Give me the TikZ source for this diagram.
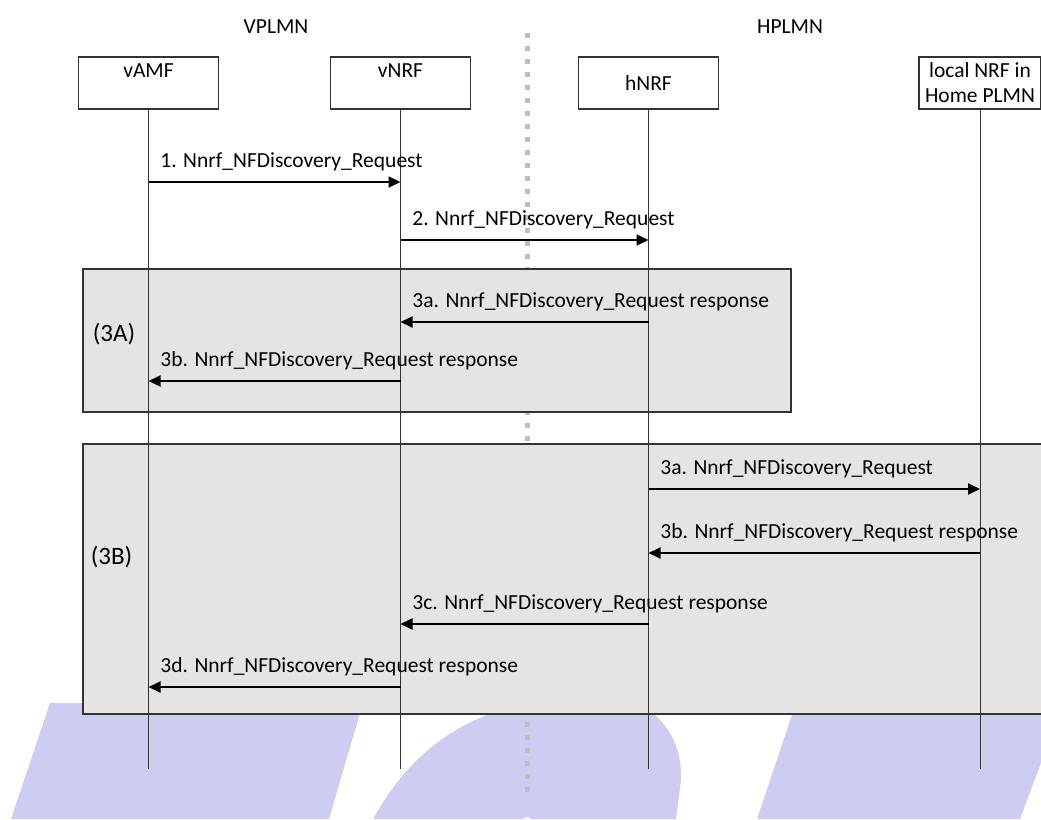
\documentclass[tikz,border=0pt]{standalone}
\usepackage{fontspec}
\setmainfont{Carlito}
\usetikzlibrary{arrows.meta}
\definecolor{wmblue}{RGB}{205,205,241}
\definecolor{boxgray}{RGB}{228,228,228}
\definecolor{dotgray}{RGB}{190,190,190}
\begin{document}
\begin{tikzpicture}[x=1pt,y=-1pt,font=\fontsize{21.5}{25}\selectfont,
    ent/.style={draw=black!80,line width=1.2pt,minimum width=140pt,minimum height=52pt,inner sep=0pt,align=center},
    life/.style={black!80,line width=1pt},
    msg/.style={line width=1.9pt,-{Triangle[length=12pt,width=11pt]}},
    lbl/.style={anchor=base west,inner sep=0pt,xshift=11pt,yshift=15pt},
    grp/.style={draw=black!80,fill=boxgray,line width=1.3pt},
    grplbl/.style={font=\fontsize{25}{30}\selectfont}]
  \useasboundingbox (0,0) rectangle (1041,819);
  \fill[wmblue] (50,703) -- (363,703) -- (329,819) -- (11,819) -- cycle;
  \fill[wmblue] (373,819) .. controls (400,770) and (450,712) .. (540,703) -- (640,703)
    .. controls (668,722) and (682,745) .. (681,780) -- (676,819) -- cycle;
  \fill[white] (527,832) ellipse [x radius=8pt,y radius=15pt];
  \fill[wmblue] (796,703) -- (1041,703) -- (1041,763) -- (1020,819) -- (757,819) -- cycle;
  \draw[dotgray,line width=5pt,dash pattern=on 5pt off 8pt] (527,33) -- (527,800);
  \draw[grp] (83,269) rectangle (791,412);
  \draw[grp] (83,444) rectangle (1046,714);
  \node (vplmn) at (276,27) {VPLMN};
  \node (hplmn) at (790,27) {HPLMN};
  \node[ent] (vamf) at (148.5,83) {vAMF\\\mbox{}};
  \node[ent] (vnrf) at (400.5,83) {vNRF\\\mbox{}};
  \node[ent] (hnrf) at (648.5,83) {hNRF};
  \node[ent,minimum width=122pt] (lnrf) at (980,83) {local NRF in\\Home PLMN};
  \node[grplbl] (g3a) at (114,334) {(3A)};
  \node[grplbl] (g3b) at (111.5,557) {(3B)};
  \coordinate (vamfend) at (148.5,769);
  \coordinate (vnrfend) at (400.5,769);
  \coordinate (hnrfend) at (648.5,769);
  \coordinate (lnrfend) at (980,769);
  \draw[life] (vamf) -- (vamfend);
  \draw[life] (vnrf) -- (vnrfend);
  \draw[life] (hnrf) -- (hnrfend);
  \draw[life] (lnrf) -- (lnrfend);
  \coordinate (m1) at (0,182);
  \coordinate (m2) at (0,240);
  \coordinate (m3) at (0,322);
  \coordinate (m4) at (0,381);
  \coordinate (m5) at (0,489);
  \coordinate (m6) at (0,553);
  \coordinate (m7) at (0,624);
  \coordinate (m8) at (0,687);
  \draw[msg] (vamf |- m1) node[lbl]{1. Nnrf\_NFDiscovery\_Request} -- (vnrf |- m1);
  \draw[msg] (vnrf |- m2) node[lbl]{2. Nnrf\_NFDiscovery\_Request} -- (hnrf |- m2);
  \draw[msg] (hnrf |- m3) -- (vnrf |- m3) node[lbl]{3a. Nnrf\_NFDiscovery\_Request response};
  \draw[msg] (vnrf |- m4) -- (vamf |- m4) node[lbl]{3b. Nnrf\_NFDiscovery\_Request response};
  \draw[msg] (hnrf |- m5) node[lbl]{3a. Nnrf\_NFDiscovery\_Request} -- (lnrf |- m5);
  \draw[msg] (lnrf |- m6) -- (hnrf |- m6) node[lbl]{3b. Nnrf\_NFDiscovery\_Request response};
  \draw[msg] (hnrf |- m7) -- (vnrf |- m7) node[lbl]{3c. Nnrf\_NFDiscovery\_Request response};
  \draw[msg] (vnrf |- m8) -- (vamf |- m8) node[lbl]{3d. Nnrf\_NFDiscovery\_Request response};
\end{tikzpicture}
\end{document}
